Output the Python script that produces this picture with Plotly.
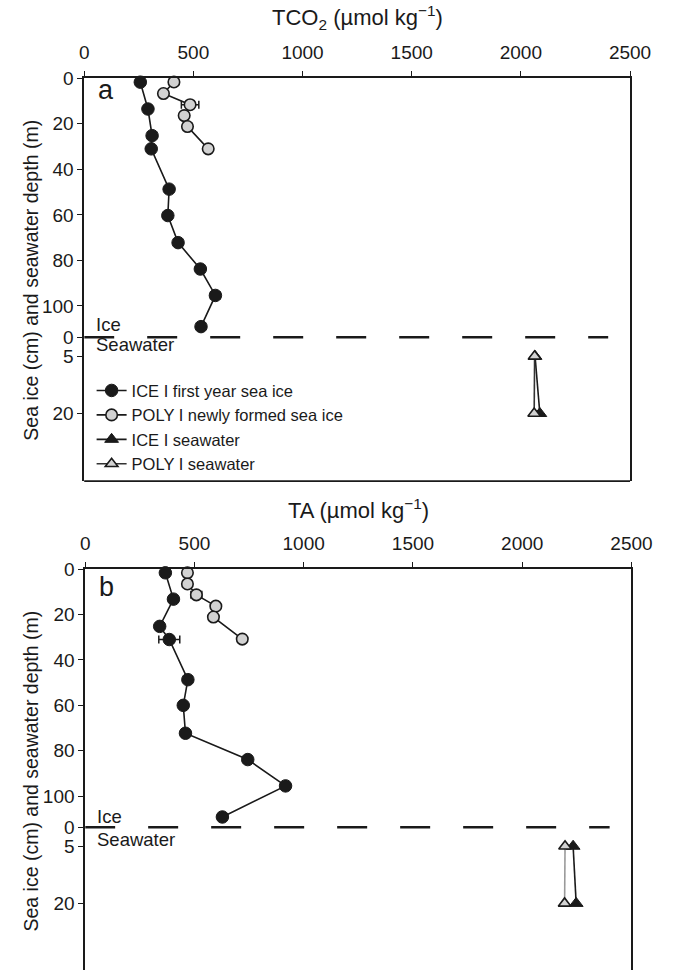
import plotly.graph_objects as go

# ---------------- data ----------------
# Panel a: TCO2 (umol/kg)
a_ice_depth = [1.7, 13.5, 25.2, 31, 48.7, 60.3, 72.2, 83.8, 95.4, 109.1]   # cm
a_ice_val = [257, 292, 311, 307, 389, 383, 430, 532, 601, 535]
a_ice_err = [6, 6, 6, 6, 6, 6, 10, 10, 22, 8]
a_poly_depth = [1.6, 6.7, 11.6, 16.4, 21.2, 31]
a_poly_val = [411, 363, 485, 458, 473, 568]
a_poly_err = [10, 8, 40, 6, 20, 10]
sw_depth = [5, 20]                                                          # m
a_icesw_val = [2065, 2087]
a_polysw_val = [2063, 2061]

# Panel b: TA (umol/kg)
b_ice_depth = [1.6, 13.2, 25.2, 31, 48.7, 60, 72.3, 83.9, 95.5, 109.2]
b_ice_val = [367, 404, 341, 385, 470, 449, 459, 744, 917, 628]
b_ice_err = [6, 6, 6, 48, 6, 6, 6, 12, 6, 6]
b_poly_depth = [1.6, 6.5, 11.3, 16.3, 21.1, 30.8]
b_poly_val = [468, 468, 509, 598, 587, 719]
b_poly_err = [8, 6, 25, 12, 6, 6]
b_icesw_val = [2233, 2247]
b_polysw_val = [2196, 2194]

x_ticks = [0, 500, 1000, 1500, 2000, 2500]
ice_ticks = [0, 20, 40, 60, 80, 100]
sw_ticks = [0, 5, 20]
boundary_x = [0, 2400]

names = ["ICE I first year sea ice", "POLY I newly formed sea ice",
         "ICE I seawater", "POLY I seawater"]

# ---------------- layout geometry (pixels) ----------------
W, H = 690, 970
FONT = "Liberation Sans, Arial, Helvetica, sans-serif"
INK = "#1a1a1a"


def px(x):
    return x / W


def py(y):
    return 1 - y / H


panels = [
    dict(x0=82.3, x1=649.5, top=69, bnd=330.7, bottom=476, ice_ppu=2.3, sw_ppu=3.85,
         xa="x", ya_ice="y", ya_sw="y2", letter="a",
         title="TCO<sub>2</sub> (µmol kg<sup>−1</sup>)", title_y=8,
         ice_lab=-13, sw_lab=7, let_off=12,
         ice=(a_ice_val, a_ice_depth, a_ice_err), poly=(a_poly_val, a_poly_depth, a_poly_err),
         icesw=a_icesw_val, polysw=a_polysw_val, polysw_line="#333333", legend=True),
    dict(x0=83.3, x1=651.0, top=565, bnd=825.7, bottom=970, ice_ppu=2.293, sw_ppu=3.85,
         xa="x2", ya_ice="y3", ya_sw="y4", letter="b",
         title="TA (µmol kg<sup>−1</sup>)", title_y=504,
         ice_lab=-11, sw_lab=12, let_off=18,
         ice=(b_ice_val, b_ice_depth, b_ice_err), poly=(b_poly_val, b_poly_depth, b_poly_err),
         icesw=b_icesw_val, polysw=b_polysw_val, polysw_line="#9a9a9a", legend=False),
]

fig = go.Figure()
layout = dict(width=W, height=H, margin=dict(l=0, r=0, t=0, b=0), autosize=False,
              plot_bgcolor="white", paper_bgcolor="white",
              font=dict(family=FONT, size=19, color=INK))
annotations = []
shapes = []


def axname(a):
    return "xaxis" + a[1:] if a.startswith("x") else "yaxis" + a[1:]


for p in panels:
    xa, yi, ys = p["xa"], p["ya_ice"], p["ya_sw"]
    xdom = [px(p["x0"]), px(p["x1"])]
    ice_rng = (p["bnd"] - p["top"]) / p["ice_ppu"]
    sw_rng = (p["bottom"] - p["bnd"]) / p["sw_ppu"]

    layout[axname(xa)] = dict(domain=xdom, anchor=yi, side="top", range=[0, 2500],
                              tickvals=x_ticks, ticks="outside", ticklen=5, tickwidth=1.3,
                              tickcolor=INK, showline=True, linewidth=1.6, linecolor=INK,
                              showgrid=False, zeroline=False, tickfont=dict(size=19),
                              ticklabelstandoff=5)
    layout[axname(yi)] = dict(domain=[py(p["bnd"]), py(p["top"])], anchor=xa,
                              range=[ice_rng, -0.001], tickvals=ice_ticks, ticks="outside",
                              ticklen=5, tickwidth=1.3, tickcolor=INK, showline=True,
                              linewidth=1.6, linecolor=INK, mirror=True, showgrid=False,
                              zeroline=False, tickfont=dict(size=19))
    layout[axname(ys)] = dict(domain=[py(p["bottom"]), py(p["bnd"])], anchor=xa,
                              range=[sw_rng, -0.001], tickvals=sw_ticks, ticks="outside",
                              ticklen=5, tickwidth=1.3, tickcolor=INK, showline=True,
                              linewidth=1.6, linecolor=INK, mirror=True, showgrid=False,
                              zeroline=False, tickfont=dict(size=19))

    ice_v, ice_d, ice_e = p["ice"]
    poly_v, poly_d, poly_e = p["poly"]
    err = lambda arr: dict(type="data", array=arr, color=INK, thickness=1.5, width=4)

    fig.add_trace(go.Scatter(x=ice_v, y=ice_d, xaxis=xa, yaxis=yi, mode="lines+markers",
                             name=names[0], showlegend=p["legend"], legendgroup="g0",
                             line=dict(color=INK, width=1.6),
                             marker=dict(symbol="circle", size=12.5, color=INK,
                                         line=dict(color=INK, width=1)),
                             error_x=err(ice_e), cliponaxis=False))
    fig.add_trace(go.Scatter(x=poly_v, y=poly_d, xaxis=xa, yaxis=yi, mode="lines+markers",
                             name=names[1], showlegend=p["legend"], legendgroup="g1",
                             line=dict(color=INK, width=1.6),
                             marker=dict(symbol="circle", size=11.5, color="#d2d2d2",
                                         line=dict(color=INK, width=1.6)),
                             error_x=err(poly_e), cliponaxis=False))
    fig.add_trace(go.Scatter(x=p["icesw"], y=sw_depth, xaxis=xa, yaxis=ys, mode="lines+markers",
                             name=names[2], showlegend=p["legend"], legendgroup="g2",
                             line=dict(color=INK, width=1.6),
                             marker=dict(symbol="triangle-up", size=12, color=INK,
                                         line=dict(color=INK, width=1)),
                             cliponaxis=False))
    fig.add_trace(go.Scatter(x=p["polysw"], y=sw_depth, xaxis=xa, yaxis=ys, mode="lines+markers",
                             name=names[3], showlegend=p["legend"], legendgroup="g3",
                             line=dict(color=p["polysw_line"], width=1.6),
                             marker=dict(symbol="triangle-up", size=11, color="#d2d2d2",
                                         line=dict(color=INK, width=1.6)),
                             cliponaxis=False))

    # ice / seawater boundary (dashed)
    shapes.append(dict(type="line", xref=xa, yref="paper", x0=boundary_x[0], x1=boundary_x[1],
                       y0=py(p["bnd"]), y1=py(p["bnd"]),
                       line=dict(color=INK, width=2.6, dash="30px,33px")))
    # bottom frame
    if p["bottom"] < H:
        shapes.append(dict(type="line", xref="paper", yref="paper", x0=xdom[0], x1=xdom[1],
                           y0=py(p["bottom"]), y1=py(p["bottom"]),
                           line=dict(color=INK, width=1.6)))

    cx = (xdom[0] + xdom[1]) / 2
    annotations += [
        dict(text=p["title"], x=cx, y=py(p["title_y"]), xref="paper", yref="paper",
             xanchor="center", yanchor="middle", showarrow=False, font=dict(size=22)),
        dict(text="Sea ice (cm) and seawater depth (m)", x=px(27),
             y=py((p["top"] + p["bottom"] + (2 if p["bottom"] >= H else 0)) / 2),
             xref="paper", yref="paper", textangle=-90, xanchor="center", yanchor="middle",
             showarrow=False, font=dict(size=19.5)),
        dict(text=p["letter"], x=px(p["x0"] + 12), y=py(p["top"] + p["let_off"]), xref="paper",
             yref="paper", xanchor="left", yanchor="middle", showarrow=False,
             font=dict(size=27)),
        dict(text="Ice", x=px(p["x0"] + 10), y=py(p["bnd"] + p["ice_lab"]), xref="paper",
             yref="paper", xanchor="left", yanchor="middle", showarrow=False,
             font=dict(size=18.5)),
        dict(text="Seawater", x=px(p["x0"] + 10), y=py(p["bnd"] + p["sw_lab"]), xref="paper",
             yref="paper", xanchor="left", yanchor="middle", showarrow=False,
             font=dict(size=18.5)),
    ]

layout["annotations"] = annotations
layout["shapes"] = shapes
layout["legend"] = dict(x=px(90), y=py(367), xanchor="left", yanchor="top",
                        bgcolor="rgba(0,0,0,0)", font=dict(size=16.5), traceorder="normal",
                        itemwidth=30, borderwidth=0)
fig.update_layout(**layout)
fig.write_html("out.html")
